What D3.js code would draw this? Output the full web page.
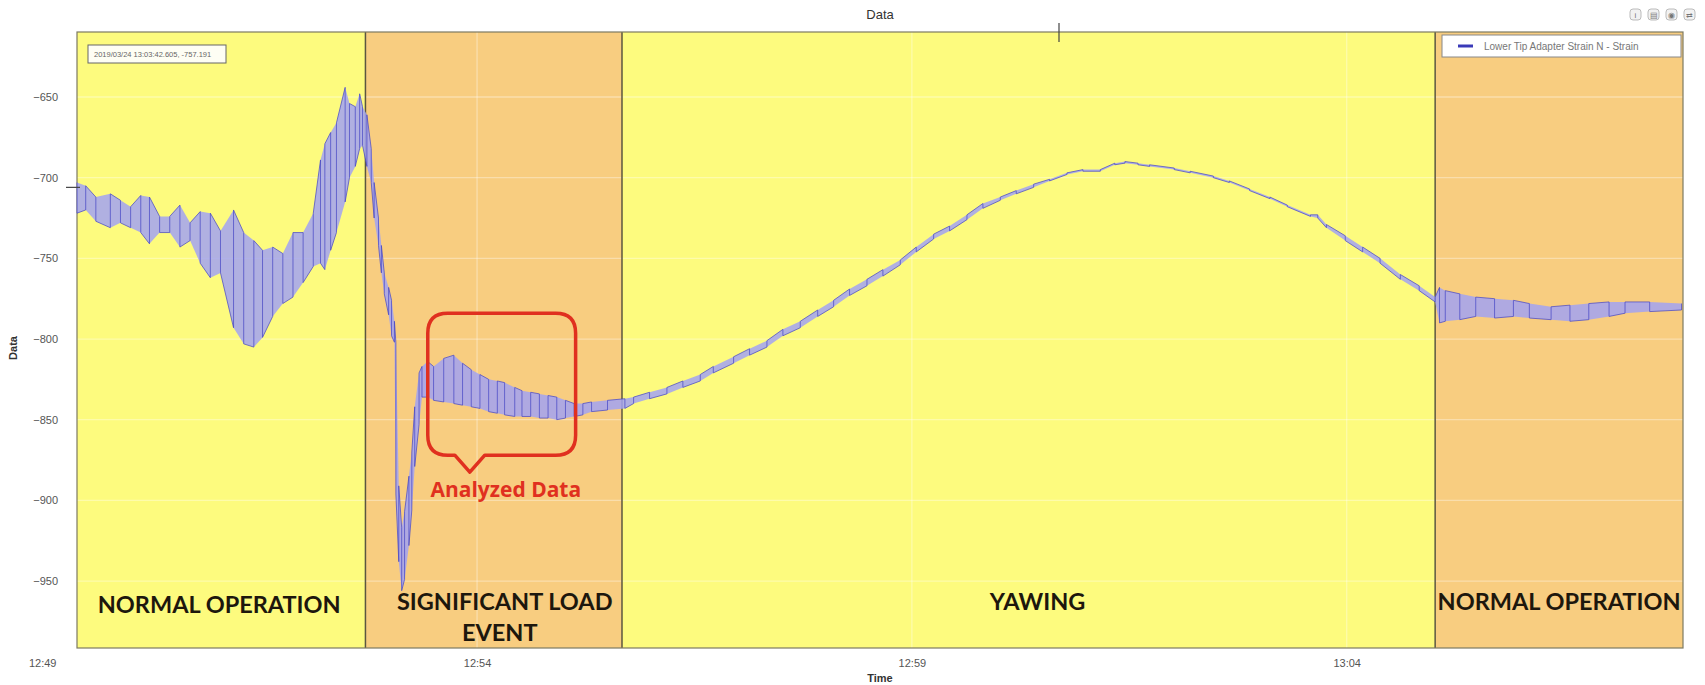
<!DOCTYPE html>
<html>
<head>
<meta charset="utf-8">
<script src="https://cdn.jsdelivr.net/npm/d3@7"></script>
<style>
body { margin: 0; background: #fff; }
svg text { font-family: "Liberation Sans", Arial, sans-serif; }
.tick text { fill: #555; font-size: 11px; }
.phase { font-family: Lato, "Open Sans", sans-serif; font-weight: 700; font-size: 23.5px; fill: #1d170d; }
</style>
</head>
<body>
<script>
var width = 1705,
    height = 685;

var margin = {top: 32, right: 22, bottom: 37, left: 77};

// seconds after 12:49:00, upper and lower trace of the strain signal
var secs = [24, 30, 37, 47, 54, 61, 68, 74, 81, 88, 95, 102, 109, 116, 123, 132, 139, 146, 152, 159,
  166, 173, 180, 187, 192, 195, 199, 203, 209, 212, 216, 219, 221, 224, 227, 229, 232, 234, 236, 239,
  241, 243, 244, 246, 248, 250, 253, 255, 257, 260, 262, 266, 270, 277, 284, 290, 296, 302, 308, 314,
  319, 326, 331, 337, 343, 349, 355, 361, 367, 373, 379, 390, 402,
  408, 419, 431, 442, 454, 463, 477, 488, 500, 511, 523, 535, 546, 557, 569, 580, 592, 603, 615, 626,
  638, 649, 661, 672, 684, 695, 707, 718, 730, 740, 747, 756, 764, 781, 792, 808, 819, 833, 847, 859,
  875, 880, 886, 899, 911, 923, 937, 950, 961,
  964, 968, 978, 989, 1002, 1015, 1026, 1041, 1054, 1067, 1081, 1092, 1109, 1131];

var hi = [-703, -705, -712, -710, -714, -718, -711, -712, -724, -724, -717, -728, -721, -722, -733, -720, -734, -739, -745, -743,
  -747, -734, -734, -722, -689, -679, -672, -666, -644, -654, -656, -648, -656, -661, -682, -703, -725, -742, -759, -768,
  -776, -789, -802, -891, -917, -907, -885, -870, -842, -821, -817, -814, -817, -812, -810, -815, -819, -822, -825, -826,
  -827, -830, -832, -833, -834, -835, -836, -838, -840, -840, -839, -838, -837,
  -836, -833, -830, -826, -822, -817, -811, -806, -801, -794, -789, -782, -776, -769, -763, -757, -751, -743, -735, -730,
  -723, -716, -712, -708, -704, -701, -697, -695, -695, -691, -690, -691, -692, -694, -696, -699, -702, -707, -712, -717,
  -723, -723, -729, -736, -743, -750, -760, -767, -774,
  -768, -770, -772, -774, -775, -776, -778, -780, -779, -778, -777, -777, -777, -778];

var lo = [-722, -720, -727, -731, -728, -731, -734, -741, -734, -734, -743, -739, -753, -762, -759, -793, -803, -805, -799, -786,
  -778, -774, -765, -755, -753, -757, -745, -734, -715, -700, -693, -682, -680, -693, -703, -725, -742, -759, -772, -785,
  -798, -802, -896, -938, -956, -949, -928, -906, -879, -853, -836, -836, -838, -839, -840, -841, -842, -843, -845, -846,
  -847, -848, -848, -848, -849, -849, -850, -849, -848, -847, -845, -844, -843,
  -840, -837, -834, -830, -826, -821, -815, -810, -805, -798, -793, -786, -780, -773, -767, -761, -754, -746, -738, -733,
  -726, -719, -714, -710, -706, -702, -698, -696, -696, -692, -691, -692, -693, -695, -697, -700, -703, -708, -713, -718,
  -724, -725, -731, -739, -746, -753, -763, -770, -777,
  -790, -789, -788, -786, -787, -786, -787, -788, -789, -788, -786, -784, -783, -782];

// operating phases (seconds after 12:49:00)
var phaseLines = [["NORMAL OPERATION"], ["SIGNIFICANT LOAD", "EVENT"], ["YAWING"], ["NORMAL OPERATION"]];
var phaseStart = [24, 223, 400, 961];
var phaseEnd = [223, 400, 961, 1132];

var yTicks = [-650, -700, -750, -800, -850, -900, -950];
var xTickMinutes = ["12:49", "12:54", "12:59", "13:04"];

var seriesName = "Lower Tip Adapter Strain N - Strain";
var cursorText = "2019/03/24 13:03:42.605, -757.191";

var day = function(s) { return new Date(2019, 2, 24, 12, 49, s); };
var parseHM = d3.timeParse("%H:%M");
var xTickDates = xTickMinutes.map(function(m) {
  var p = parseHM(m);
  return new Date(2019, 2, 24, p.getHours(), p.getMinutes());
});

var data = secs.map(function(s, i) { return {t: day(s), hi: hi[i], lo: lo[i]}; });

var x = d3.scaleTime()
    .domain([day(24), day(1132)])
    .range([margin.left, width - margin.right]);

var y = d3.scaleLinear()
    .domain([-991.5, -609.7])
    .range([height - margin.bottom, margin.top]);

var svg = d3.select("body").append("svg")
    .attr("width", width)
    .attr("height", height);

svg.append("text")
    .attr("x", (margin.left + width - margin.right) / 2)
    .attr("y", 19)
    .attr("text-anchor", "middle")
    .style("font-size", "13px")
    .style("fill", "#333")
    .text("Data");

// phase backgrounds
var bandColor = ["#fdfb7e", "#f8cd80", "#fdfb7e", "#f8cd80"];
svg.selectAll("rect.band")
  .data(phaseStart)
  .enter().append("rect")
    .attr("class", "band")
    .attr("x", function(d) { return x(day(d)); })
    .attr("y", margin.top)
    .attr("width", function(d, i) { return x(day(phaseEnd[i])) - x(day(d)); })
    .attr("height", y.range()[0] - margin.top)
    .style("fill", function(d, i) { return bandColor[i]; });

// grid
svg.append("g").selectAll("line")
  .data(yTicks)
  .enter().append("line")
    .attr("x1", margin.left).attr("x2", width - margin.right)
    .attr("y1", y).attr("y2", y)
    .style("stroke", "#fff").style("stroke-opacity", 0.35).style("stroke-width", 1.3);

svg.append("g").selectAll("line")
  .data(xTickDates.filter(function(d) { return d >= x.domain()[0]; }))
  .enter().append("line")
    .attr("x1", x).attr("x2", x)
    .attr("y1", margin.top).attr("y2", y.range()[0])
    .style("stroke", "#fff").style("stroke-opacity", 0.35).style("stroke-width", 1.3);

// phase separators
svg.append("g").selectAll("line")
  .data(phaseStart.slice(1))
  .enter().append("line")
    .attr("x1", function(d) { return x(day(d)); })
    .attr("x2", function(d) { return x(day(d)); })
    .attr("y1", margin.top).attr("y2", y.range()[0])
    .style("stroke", "#5b5640").style("stroke-width", 1.5);

svg.append("rect")
    .attr("x", margin.left).attr("y", margin.top)
    .attr("width", width - margin.right - margin.left)
    .attr("height", y.range()[0] - margin.top)
    .style("fill", "none").style("stroke", "#7d7a62").style("stroke-width", 1.2);

// phase labels
var labelShift = [-2, 11, 9, 0];
var labelBase = [613, 610, 610, 610];
phaseLines.forEach(function(lines, i) {
  var cx = (x(day(phaseStart[i])) + x(day(phaseEnd[i]))) / 2 + labelShift[i];
  lines.forEach(function(l, j) {
    svg.append("text")
        .attr("class", "phase")
        .attr("x", cx + (j > 0 ? -5 : 0))
        .attr("y", labelBase[i] + j * 31)
        .attr("text-anchor", "middle")
        .text(l);
  });
});

// signal
var band = d3.area()
    .x(function(d) { return x(d.t); })
    .y0(function(d) { return y(d.lo); })
    .y1(function(d) { return y(d.hi); });

svg.append("path")
    .datum(data)
    .attr("d", band)
    .style("fill", "#a2a2f2")
    .style("fill-opacity", 0.85);

var zig = [];
data.forEach(function(d, i) {
  if (i % 2 === 0) { zig.push([d.t, d.hi]); zig.push([d.t, d.lo]); }
  else { zig.push([d.t, d.lo]); zig.push([d.t, d.hi]); }
});

svg.append("path")
    .datum(zig)
    .attr("d", d3.line()
      .x(function(d) { return x(d[0]); })
      .y(function(d) { return y(d[1]); }))
    .style("fill", "none")
    .style("stroke", "#4646c4")
    .style("stroke-opacity", 0.8)
    .style("stroke-width", 0.9);

// axes
var yAxis = svg.append("g")
    .attr("transform", "translate(" + margin.left + ",0)")
    .call(d3.axisLeft(y).tickValues(yTicks).tickSize(0).tickPadding(19));
yAxis.select(".domain").remove();

var xAxis = svg.append("g")
    .attr("transform", "translate(0," + y.range()[0] + ")")
    .call(d3.axisBottom(x).tickValues(xTickDates).tickSize(0).tickPadding(11)
      .tickFormat(d3.timeFormat("%H:%M")));
xAxis.select(".domain").remove();

svg.append("text")
    .attr("x", (margin.left + width - margin.right) / 2)
    .attr("y", 682)
    .attr("text-anchor", "middle")
    .style("font-size", "11px").style("font-weight", "bold").style("fill", "#333")
    .text("Time");

svg.append("text")
    .attr("transform", "translate(17,348) rotate(-90)")
    .attr("text-anchor", "middle")
    .style("font-size", "11px").style("font-weight", "bold").style("fill", "#333")
    .text("Data");

// cursor markers
svg.append("line")
    .attr("x1", 66).attr("x2", 80)
    .attr("y1", y(-706)).attr("y2", y(-706))
    .style("stroke", "#444").style("stroke-width", 1.2);
svg.append("line")
    .attr("x1", 1059).attr("x2", 1059)
    .attr("y1", 23).attr("y2", 42)
    .style("stroke", "#444").style("stroke-width", 1.2);

// cursor readout
svg.append("rect")
    .attr("x", 88).attr("y", 45).attr("width", 138).attr("height", 18)
    .style("fill", "#fefef4").style("stroke", "#666").style("stroke-width", 1);
svg.append("text")
    .attr("x", 94).attr("y", 57)
    .style("font-size", "7.5px").style("fill", "#666")
    .text(cursorText);

// legend
svg.append("rect")
    .attr("x", 1442).attr("y", 35).attr("width", 239).attr("height", 22)
    .style("fill", "#fff").style("stroke", "#888").style("stroke-width", 1);
svg.append("line")
    .attr("x1", 1458).attr("x2", 1473).attr("y1", 46).attr("y2", 46)
    .style("stroke", "#3a3ab8").style("stroke-width", 3);
svg.append("text")
    .attr("x", 1484).attr("y", 49.5)
    .style("font-size", "10px").style("fill", "#777")
    .text(seriesName);

// toolbar icons
var icons = svg.append("g").attr("transform", "translate(1630,9)");
[0, 18, 36, 54].forEach(function(dx, i) {
  icons.append("rect")
      .attr("x", dx).attr("y", 0).attr("width", 11).attr("height", 11).attr("rx", 3)
      .style("fill", "#f2f2f2").style("stroke", "#bbb");
  icons.append("text")
      .attr("x", dx + 5.5).attr("y", 8.5).attr("text-anchor", "middle")
      .style("font-size", "8px").style("fill", "#777")
      .text(["i", "\u25A4", "\u25C9", "\u21C4"][i]);
});

// callout
var callout = {t0: 266, t1: 368, v0: -784, v1: -872, tip: 295};
var cx0 = x(day(callout.t0)), cx1 = x(day(callout.t1)),
    cy0 = y(callout.v0), cy1 = y(callout.v1),
    tipX = x(day(callout.tip)), r = 20;
var p = d3.path();
p.moveTo(cx0 + r, cy0);
p.lineTo(cx1 - r, cy0);
p.quadraticCurveTo(cx1, cy0, cx1, cy0 + r);
p.lineTo(cx1, cy1 - r);
p.quadraticCurveTo(cx1, cy1, cx1 - r, cy1);
p.lineTo(tipX + 15, cy1);
p.lineTo(tipX, cy1 + 17);
p.lineTo(tipX - 15, cy1);
p.lineTo(cx0 + r, cy1);
p.quadraticCurveTo(cx0, cy1, cx0, cy1 - r);
p.lineTo(cx0, cy0 + r);
p.quadraticCurveTo(cx0, cy0, cx0 + r, cy0);
p.closePath();
svg.append("path")
    .attr("d", p.toString())
    .style("fill", "none")
    .style("stroke", "#e0301f")
    .style("stroke-width", 3.5)
    .style("stroke-linejoin", "round");

svg.append("text")
    .attr("x", tipX + 36)
    .attr("y", cy1 + 42)
    .attr("text-anchor", "middle")
    .style("font-family", "'Open Sans', Lato, sans-serif")
    .style("font-weight", 700)
    .style("font-size", "21px")
    .style("fill", "#e0301f")
    .text("Analyzed Data");
</script>
</body>
</html>
